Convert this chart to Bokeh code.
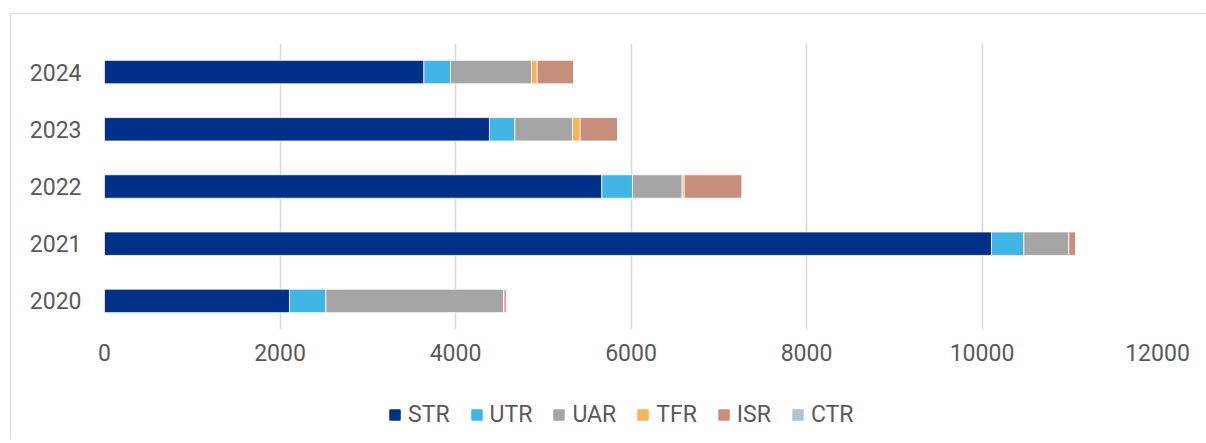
from bokeh.plotting import figure
from bokeh.layouts import column
from bokeh.models import ColumnDataSource, FactorRange, Range1d, FixedTicker, Legend, LegendItem
from bokeh.embed import file_html
from bokeh.resources import INLINE

years = ["2020", "2021", "2022", "2023", "2024"]
STR = [2108, 10108, 5667, 4387, 3640]
UTR = [414, 369, 350, 290, 303]
UAR = [2028, 512, 566, 657, 923]
TFR = [3, 0, 23, 88, 65]
ISR = [27, 80, 661, 425, 417]
CTR = [12, 0, 0, 0, 0]

series = ["STR", "UTR", "UAR", "TFR", "ISR", "CTR"]
colors = ["#003087", "#41B6E6", "#A5A5A5", "#F9B257", "#C78E7C", "#B4C0D8"]
x_ticks = [0, 2000, 4000, 6000, 8000, 10000, 12000]

source = ColumnDataSource(data=dict(year=years, STR=STR, UTR=UTR, UAR=UAR,
                                    TFR=TFR, ISR=ISR, CTR=CTR))

W = 1194
p = figure(width=W, height=365, y_range=FactorRange(factors=years),
           x_range=Range1d(0, 12000), output_backend="svg",
           toolbar_location=None, title=None,
           min_border_left=93, min_border_right=W - 1146,
           min_border_top=29, min_border_bottom=50)
p.outline_line_color = None
p.background_fill_color = "white"
p.border_fill_color = "white"

p.hbar_stack(series, y="year", height=0.41, color=colors,
             line_color="white", line_width=0.8, source=source)

p.xaxis.ticker = FixedTicker(ticks=x_ticks)
p.xgrid.ticker = FixedTicker(ticks=x_ticks)
p.xgrid.grid_line_color = "#d9d9d9"
p.xgrid.grid_line_width = 1.6
p.ygrid.grid_line_color = None

for ax in (p.xaxis, p.yaxis):
    ax.axis_line_color = None
    ax.major_tick_line_color = None
    ax.minor_tick_line_color = None
    ax.major_tick_out = 0
    ax.major_tick_in = 0
    ax.major_label_text_font = "Roboto"
    ax.major_label_text_font_size = "23px"
    ax.major_label_text_color = "#595959"
p.xaxis.major_label_standoff = 14
p.yaxis.major_label_standoff = 23

# legend strip below the chart
lf = figure(width=W, height=60, y_range=FactorRange(factors=years),
            x_range=Range1d(0, 1), output_backend="svg",
            toolbar_location=None, title=None,
            x_axis_type=None, y_axis_type=None,
            min_border_left=0, min_border_right=0,
            min_border_top=0, min_border_bottom=0)
lf.outline_line_color = None
lf.xgrid.grid_line_color = None
lf.ygrid.grid_line_color = None
lrs = lf.hbar_stack(series, y="year", height=0.41, color=colors, source=source)
for r in lrs:
    r.visible = False

items = [LegendItem(label=s, renderers=[r]) for s, r in zip(series, lrs)]
legend = Legend(items=items, orientation="horizontal", location=(284, 11),
                glyph_width=13, glyph_height=13, label_standoff=7, spacing=20,
                padding=0, margin=0, border_line_color=None,
                background_fill_alpha=0,
                label_text_font="Roboto", label_text_font_size="23px",
                label_text_color="#595959")
lf.add_layout(legend, "center")

layout = column(p, lf, spacing=0)
layout.margin = (13, 0, 0, 10)
layout.styles = {"border-top": "1px solid #d9d9d9", "border-left": "1px solid #d9d9d9"}

open("out.html", "w").write(file_html(layout, INLINE))
